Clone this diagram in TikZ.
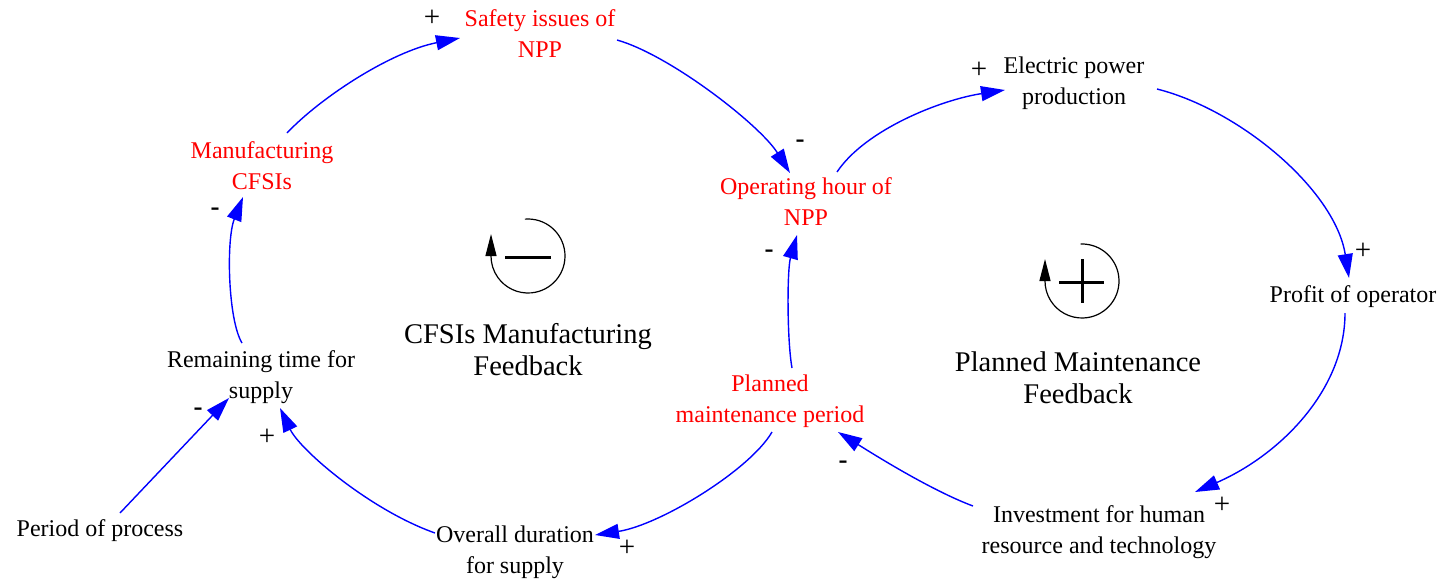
\documentclass[tikz,border=0pt]{standalone}
\usepackage{fontspec}
\setmainfont{Liberation Serif}
\usetikzlibrary{arrows.meta,calc}
\begin{document}
\begin{tikzpicture}[x=1pt,y=-1pt,
  var/.style={align=center,font=\fontsize{24}{31}\selectfont,inner sep=2pt},
  keyvar/.style={var,text=red},
  looptitle/.style={align=center,font=\fontsize{28.5}{32}\selectfont,inner sep=0pt},
  possign/.style={font=\fontsize{29}{29}\selectfont,inner sep=0pt},
  negsign/.style={font=\fontsize{27}{27}\selectfont\bfseries,inner sep=0pt},
  link/.style={blue,line width=1.4pt,-{Triangle[length=24pt,width=15pt]}},
  loopicon/.style={black,line width=1.2pt,-{Triangle[length=22pt,width=11pt]}},
  polarity/.style={black,line width=3pt}]
\useasboundingbox (0,0) rectangle (1444,582);

% variables
\node[keyvar] (safety)  at (540,34)   {Safety issues of\\NPP};
\node[var]    (elec)    at (1074,83)  {Electric power\\production};
\node[keyvar] (mfg)     at (262,166)  {Manufacturing\\CFSIs};
\node[keyvar] (oper)    at (806,202)  {Operating hour of\\NPP};
\node[var]    (profit)  at (1353,297) {Profit of operator};
\node[var]    (remain)  at (261,377)  {Remaining time for\\supply};
\node[keyvar] (planned) at (770,401)  {Planned\\maintenance period};
\node[var]    (invest)  at (1099,532) {Investment for human\\resource and technology};
\node[var]    (period)  at (100,531)  {Period of process};
\node[var]    (overall) at (515,552)  {Overall duration\\for supply};

% loop titles
\node[looptitle] (titleL) at (528,350)  {CFSIs Manufacturing\\Feedback};
\node[looptitle] (titleR) at (1078,378) {Planned Maintenance\\Feedback};

% causal links
\draw[link] ($(mfg)+(25,-33)$) .. controls (320,98) and (390,52) .. ($(safety)+(-80,4)$);
\draw[link] ($(safety)+(77,6)$) .. controls (670,55) and (760,125) .. ($(oper)+(-16,-29)$);
\draw[link] ($(oper)+(31,-30)$) .. controls (865,130) and (940,100) .. ($(elec)+(-69,7)$);
\draw[link] ($(elec)+(83,6)$) .. controls (1240,110) and (1335,190) .. ($(profit)+(-4,-19)$);
\draw[link] ($(profit)+(-8,16)$) .. controls (1345,390) and (1280,455) .. ($(invest)+(96,-40)$);
\draw[link] ($(invest)+(-126,-26)$) .. controls (930,490) and (870,452) .. ($(planned)+(68,31)$);
\draw[link] ($(planned)+(2,31)$) .. controls (750,470) and (660,525) .. ($(overall)+(80,-17)$);
\draw[link] ($(overall)+(-80,-19)$) .. controls (370,510) and (300,450) .. ($(remain)+(19,31)$);
\draw[link] ($(period)+(20,-18)$) -- ($(remain)+(-32,21)$);
\draw[link] ($(remain)+(-19,-34)$) .. controls (228,320) and (226,240) .. ($(mfg)+(-19,31)$);
\draw[link] ($(planned)+(22,-33)$) .. controls (787,340) and (787,270) .. ($(oper)+(-9,33)$);

% link polarities
\node[possign] (p1)  at (432,18)  {+};
\node[negsign] (p2)  at (800,144) {-};
\node[possign] (p3)  at (979,70)  {+};
\node[possign] (p4)  at (1363,251) {+};
\node[possign] (p5)  at (1222,505) {+};
\node[negsign] (p6)  at (843,465) {-};
\node[negsign] (p7)  at (769,254) {-};
\node[possign] (p8)  at (627,548) {+};
\node[possign] (p9)  at (267,437) {+};
\node[negsign] (p10) at (198,412) {-};
\node[negsign] (p11) at (215,212) {-};

% loop markers: balancing (left) and reinforcing (right)
\coordinate (iconL) at (528,256);
\coordinate (iconR) at (1082,281);
\draw[loopicon] (iconL) ++(-95:37) arc[start angle=-95,end angle=180,radius=37] -- ++(0,-22);
\draw[polarity] ($(iconL)+(-23,1)$) -- ($(iconL)+(23,1)$);
\draw[loopicon] (iconR) ++(-92:37) arc[start angle=-92,end angle=180,radius=37] -- ++(0,-22);
\draw[polarity] ($(iconR)+(-23,1)$) -- ($(iconR)+(22,1)$);
\draw[polarity] ($(iconR)+(0,-22)$) -- ($(iconR)+(0,22)$);
\end{tikzpicture}
\end{document}
